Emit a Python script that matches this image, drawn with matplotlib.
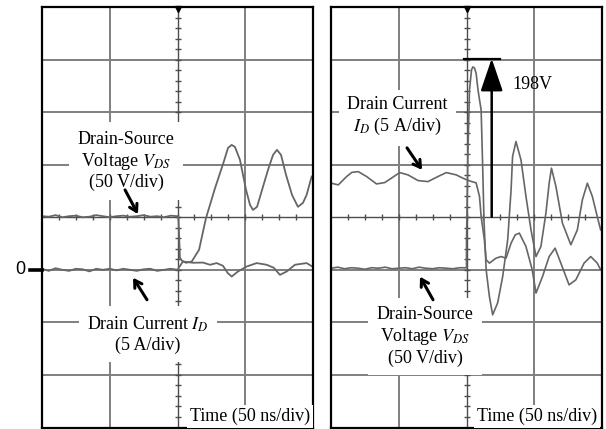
import matplotlib
matplotlib.use('Agg')
from matplotlib import pyplot as plt
from matplotlib.transforms import blended_transform_factory
import numpy as np

plt.rcParams['font.family'] = 'Liberation Serif'
plt.rcParams['mathtext.fontset'] = 'stix'

# time in ns, voltage in V (50 V/div), current in A (5 A/div)
V_DIV = 50.0
I_DIV = 5.0

# ---- left panel: turn-on ----
t_pre = [0, 5, 10, 15, 20, 25, 30, 35, 40, 45, 50, 55, 60, 65, 70, 75, 80, 85, 90, 95, 100]
vds_left_pre = [51, 50.5, 52, 50, 51, 51.5, 50, 50.5, 52, 51, 50, 51, 51.5, 50.5, 51, 52, 50.5, 51, 50, 51.5, 51]
t_vds_left = [100.7, 101.8, 103.3, 106.3, 110.5, 115.9, 121.0, 127.7, 133.8, 137.3, 140.0, 142.4,
              146.1, 150.6, 153.5, 155.7, 158.7, 162.4, 166.8, 170.5, 173.4, 176.4, 180.1, 184.5,
              188.9, 192.6, 195.3, 199.0]
vds_left = [49.4, 11.4, 8.6, 6.7, 7.9, 19.0, 49.1, 77.7, 101.4, 116.0, 118.8, 116.9,
            104.6, 76.0, 61.8, 57.0, 59.9, 76.0, 95.1, 109.3, 114.1, 109.3, 90.3, 71.3,
            59.9, 63.7, 71.3, 88.7]

id_left_pre = [0.1, -0.1, 0.15, 0, -0.1, 0.1, 0.05, -0.15, 0.1, 0, 0.1, -0.05, 0.1, 0, -0.1,
               0.05, 0.1, -0.1, 0, 0.1, 0]
t_id_left = [101, 104, 111.4, 118.8, 124, 128.9, 133.6, 137, 140, 144.6, 151, 158.4, 165.8,
             171, 175.6, 180.6, 186.7, 195.3, 199.5]
id_left = [0.2, 0.79, 0.67, 0.69, 0.48, 0.64, 0.38, -0.3, -0.64, -0.16, 0.31, 0.64, 0.48,
           0.2, -0.48, -0.16, 0.48, 0.64, 0.31]

# ---- right panel: turn-off ----
vds_right_pre = [1.5, 2.5, 1, 2, 1.5, 0.5, 2, 1.5, 2.5, 1, 1.5, 2, 1, 2.5, 1.5, 1, 2, 1.5, 1, 2, 1.9]
t_vds_right = [100.0, 101.1, 102.2, 103.7, 104.6, 105.9, 107.1, 108.5, 110.8, 111.8, 112.9,
               114.5, 116.9, 119.3, 123.0, 126.7, 130.4, 132.9, 134.0, 136.5, 140.2, 143.9,
               147.6, 151.3, 154.9, 158.6, 161.0, 162.7, 166.0, 170.8, 177.0, 181.8, 185.5,
               189.2, 192.9, 196.5, 199.0]
vds_right = [28.5, 114, 171, 190, 193, 192, 187, 171, 152, 104.6, 47.5,
             0, -25.4, -42.8, -31.4, -6.4, 28.5, 76.0, 107.7, 122.0, 104.6, 69.7,
             38.0, 12.6, 22.1, 53.9, 82.4, 96.7, 79.2, 44.4, 23.8, 38.0, 66.5,
             82.4, 69.7, 50.7, 38.0]

t_id_right = [0, 5.4, 11.5, 15.4, 20.1, 26.3, 33.6, 39.7, 44.6, 50.7, 56.8, 64.2, 71.5, 78.9,
              85.1, 92.4, 97.3, 102.2, 107.1, 109.6, 110.8, 113.2, 114.5, 116.9, 121.8, 125.5,
              129.2, 132.9, 136.0, 139.0, 143.9, 148.5, 151.3, 156.1, 161.0, 165.4, 169.6,
              175.7, 180.7, 186.8, 191.7, 196.5, 199.0]
id_right = [8.24, 8.08, 8.87, 9.27, 9.34, 8.87, 8.17, 8.30, 8.72, 9.25, 9.03, 8.49, 8.39, 8.87,
            9.25, 9.03, 8.72, 8.46, 8.27, 6.97, 5.07, 2.85, 0.95, 0.64, 1.11, 1.26,
            1.11, 2.54, 3.33, 3.49, 2.21, 0, -2.21, -0.64, 1.26, 2.06, 0.64,
            -1.43, -0.95, 0.64, 1.26, 0.64, 0]

peak_text = '198V'
peak_mark_v = 201  # level of the marker line as drawn

W, H = 606, 429
fig = plt.figure(figsize=(W / 100, H / 100), dpi=100)
axL = fig.add_axes([42 / W, 1.5 / H, 271 / W, 420.5 / H])
axR = fig.add_axes([331 / W, 1.5 / H, 271 / W, 420.5 / H])

trace_c = '#666666'
grid_c = '#7f7f7f'


def scope_grid(ax):
    ax.set_xlim(0, 200)
    ax.set_ylim(-3, 5)
    ax.set_xticks([])
    ax.set_yticks([])
    for s in ax.spines.values():
        s.set_linewidth(1.6)
        s.set_color('black')
    for x in [50, 150]:
        ax.axvline(x, color=grid_c, lw=1.4, zorder=1)
    for y in [-2, -1, 0, 2, 3, 4]:
        ax.axhline(y, color=grid_c, lw=1.4, zorder=1)
    ax.axvline(100, color='#4d4d4d', lw=1.0, zorder=1)
    ax.axhline(1, color='#4d4d4d', lw=1.0, zorder=1)
    ax.plot(np.full(39, 100), np.arange(-2.8, 5, 0.2), ls='none', marker='_', ms=5,
            mew=1.0, color='#4d4d4d', zorder=1)
    ax.plot(np.arange(12.5, 200, 12.5), np.full(15, 1), ls='none', marker='|', ms=5,
            mew=1.0, color='#4d4d4d', zorder=1)
    ax.plot([100], [4.96], marker='v', ms=4, color='black', clip_on=False, zorder=4)


scope_grid(axL)
scope_grid(axR)

box = dict(boxstyle='square,pad=0.45', fc='white', ec='none')
tbox = dict(boxstyle='square,pad=0.15', fc='white', ec='none')
arrow = dict(arrowstyle='->,head_length=0.5,head_width=0.3', lw=2.2, color='black',
             shrinkA=0, shrinkB=0)

# left traces
axL.plot(t_pre + t_vds_left, np.array(vds_left_pre + vds_left) / V_DIV, color=trace_c, lw=1.3, zorder=2)
axL.plot(t_pre + t_id_left, np.array(id_left_pre + id_left) / I_DIV, color=trace_c, lw=1.3, zorder=2)

axL.text(62, 2.07, 'Drain-Source\nVoltage $V_{DS}$\n(50 V/div)', ha='center', va='center',
         fontsize=13, bbox=box, zorder=3)
axL.annotate('', xy=(70.8, 1.06), xytext=(61.3, 1.52), arrowprops=arrow, zorder=4)
axL.text(78, -1.22, 'Drain Current $I_D$\n(5 A/div)', ha='center', va='center',
         fontsize=13, bbox=box, zorder=3)
axL.annotate('', xy=(67.2, -0.15), xytext=(77.5, -0.57), arrowprops=arrow, zorder=4)
axL.text(198, -2.79, 'Time (50 ns/div)', ha='right', va='center', fontsize=13, bbox=tbox, zorder=3)

# zero marker
tr = blended_transform_factory(axL.transAxes, axL.transData)
axL.plot([-12 / 271, 0], [0, 0], color='black', lw=2.6, transform=tr, clip_on=False)
axL.text(-22 / 271, 0, '0', transform=tr, ha='center', va='center', fontsize=13,
         family='Liberation Sans')

# right traces
axR.plot(t_pre + t_vds_right, np.array(vds_right_pre + vds_right) / V_DIV, color=trace_c, lw=1.2, zorder=2)
axR.plot(t_id_right, np.array(id_right) / I_DIV, color=trace_c, lw=1.2, zorder=2)

axR.text(49, 2.91, 'Drain Current\n$I_D$ (5 A/div)', ha='center', va='center',
         fontsize=13, bbox=box, zorder=3)
axR.annotate('', xy=(67.2, 1.9), xytext=(56.1, 2.32), arrowprops=arrow, zorder=4)
axR.text(69.4, -1.27, 'Drain-Source\nVoltage $V_{DS}$\n(50 V/div)', ha='center', va='center',
         fontsize=13, bbox=box, zorder=3)
axR.annotate('', xy=(65.7, -0.13), xytext=(75.3, -0.57), arrowprops=arrow, zorder=4)
axR.text(196.5, -2.79, 'Time (50 ns/div)', ha='right', va='center', fontsize=13, bbox=tbox, zorder=3)

# 198 V marker
axR.plot([98.5, 124.4], [peak_mark_v / V_DIV] * 2, color='black', lw=1.6, zorder=4)
axR.annotate('', xy=(118.6, peak_mark_v / V_DIV), xytext=(118.6, 1.01),
             arrowprops=dict(arrowstyle='-|>,head_length=1.0,head_width=0.34', lw=1.8,
                             color='black', mutation_scale=20, shrinkA=0, shrinkB=0), zorder=4)
axR.text(134, 3.52, peak_text, ha='left', va='center', fontsize=13, zorder=3)

fig.savefig('out.png', dpi=100)
